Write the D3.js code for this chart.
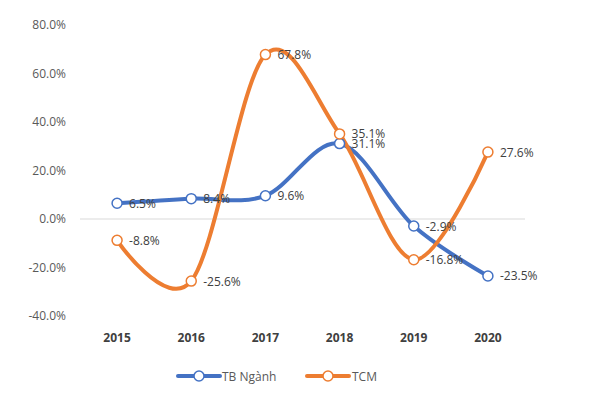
<!DOCTYPE html>
<html><head><meta charset="utf-8">
<script src="https://cdn.jsdelivr.net/npm/d3@7"></script>
<style>body{margin:0;background:#fff}svg{font-family:"Open Sans",sans-serif}</style>
</head><body>
<svg id="c" width="600" height="401"></svg>
<script>
const years = ["2015","2016","2017","2018","2019","2020"];
const tbNganh = [6.5, 8.4, 9.6, 31.1, -2.9, -23.5];
const tcm = [-8.8, -25.6, 67.8, 35.1, -16.8, 27.6];
const yTicks = [-40, -20, 0, 20, 40, 60, 80];
const seriesNames = ["TB Ngành", "TCM"];
const colors = ["#4472C4", "#ED7D31"];

const svg = d3.select("#c");
const x = d3.scaleBand().domain(years).range([80, 525]);
const y = d3.scaleLinear().domain([-40, 80]).range([316, 25]);
const fmt = v => v.toFixed(1) + "%";

// y axis labels
const ya = svg.append("g").attr("transform","translate(66,0)")
  .call(d3.axisLeft(y).tickValues(yTicks).tickSize(0).tickPadding(0).tickFormat(fmt));
ya.select(".domain").remove();
ya.selectAll("text").attr("font-size",12).attr("fill","#595959").attr("font-family","Open Sans");

// zero line
svg.append("line").attr("x1",80).attr("x2",525).attr("y1",y(0)).attr("y2",y(0))
  .attr("stroke","#d9d9d9").attr("stroke-width",1);

// x axis labels
const xa = svg.append("g").attr("transform","translate(0,333)")
  .call(d3.axisBottom(x).tickSize(0).tickPadding(0));
xa.select(".domain").remove();
xa.selectAll("text").attr("font-size",12).attr("font-weight","bold").attr("fill","#404040")
  .attr("font-family","Open Sans");

const data = [tbNganh, tcm];
const cx = d => x(d) + x.bandwidth()/2;
const line = d3.line().x((d,i)=>cx(years[i])).y(d=>y(d)).curve(d3.curveCatmullRom.alpha(0));

data.forEach((vals, s) => {
  svg.append("path").datum(vals).attr("d", line).attr("fill","none")
    .attr("stroke", colors[s]).attr("stroke-width",4).attr("stroke-linecap","round");
});
data.forEach((vals, s) => {
  svg.append("g").selectAll("circle").data(vals).join("circle")
    .attr("cx",(d,i)=>cx(years[i])).attr("cy",d=>y(d)).attr("r",5)
    .attr("fill","#fff").attr("stroke",colors[s]).attr("stroke-width",1.5);
});
data.forEach((vals, s) => {
  svg.append("g").selectAll("text").data(vals).join("text")
    .attr("x",(d,i)=>cx(years[i])+12).attr("y",d=>y(d)+4.5)
    .attr("font-size",12).attr("fill","#404040").text(fmt);
});

// legend
const lg = [{x0:178, tx:222}, {x0:307, tx:352}];
seriesNames.forEach((n, s) => {
  const g = svg.append("g");
  g.append("line").attr("x1",lg[s].x0).attr("x2",lg[s].x0+42).attr("y1",376).attr("y2",376)
    .attr("stroke",colors[s]).attr("stroke-width",4).attr("stroke-linecap","round");
  g.append("circle").attr("cx",lg[s].x0+21).attr("cy",376).attr("r",5)
    .attr("fill","#fff").attr("stroke",colors[s]).attr("stroke-width",1.5);
  g.append("text").attr("x",lg[s].tx).attr("y",380.5).attr("font-size",12)
    .attr("fill","#595959").text(n);
});
</script>
</body></html>
